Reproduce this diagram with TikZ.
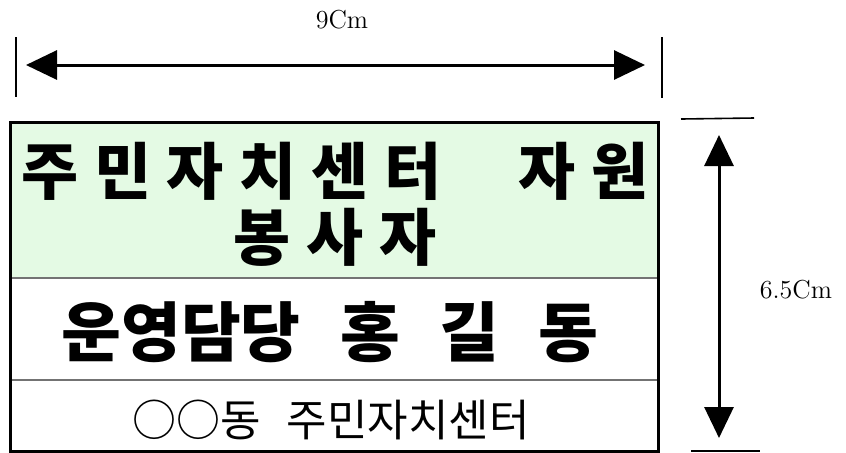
\documentclass[tikz,border=0pt]{standalone}
\usepackage{xcolor}
\usepackage{fontspec}
\usepackage{tikz}
\usetikzlibrary{arrows.meta}

\newfontfamily\kr[WordSpace=1.6]{Noto Sans CJK KR}
\newfontfamily\krname[WordSpace=2.65]{Noto Sans CJK KR}
\newfontfamily\krwide[LetterSpace=25]{Noto Sans CJK KR}
\definecolor{panelgreen}{RGB}{228,250,228}

\begin{document}
\begin{tikzpicture}[x=0.5pt,y=-0.5pt,
    dim/.style={line width=1.5pt,{Triangle[length=15.5pt,width=14.5pt]}-{Triangle[length=15.5pt,width=14.5pt]}},
    tick/.style={line width=0.8pt},
    rule/.style={draw=black!55,line width=1pt},
    dimlabel/.style={font=\fontsize{13}{15}\selectfont},
    titletext/.style={font=\krwide\bfseries\fontsize{31}{33}\selectfont,align=center},
    nametext/.style={font=\krname\bfseries\fontsize{32.5}{34}\selectfont},
    orgtext/.style={font=\kr\fontsize{22}{24}\selectfont}]
    \useasboundingbox (0,0) rectangle (846,452);

    % width
    \node[dimlabel] (wlabel) at (342,20) {9Cm};
    \draw[tick] (16,37) -- (16,97);
    \draw[tick] (662,37) -- (662,98);
    \coordinate (wl) at (26,65);
    \coordinate (wr) at (645,65);
    \draw[dim] (wl) -- (wr);

    % height
    \node[dimlabel] (hlabel) at (796,290) {6.5Cm};
    \draw[tick] (681,119) -- (754,118);
    \draw[tick] (691,451) -- (760,451);
    \coordinate (ht) at (719,135);
    \coordinate (hb) at (719,438);
    \draw[dim] (ht) -- (hb);

    % badge
    \fill[panelgreen] (10,122) rectangle (658,278);
    \draw[rule] (10,278) -- (658,278);
    \draw[rule] (10,380) -- (658,380);
    \draw[line width=1.5pt] (10,122) rectangle (658,451);

    \node[titletext] (title) at (335,204) {주민자치센터\hspace{1.25em}자원\\봉사자};
    \node[nametext] (post) at (330,332) {운영담당 홍 길 동};
    \node[orgtext] (centre) at (331,420) {○○동 주민자치센터};
\end{tikzpicture}
\end{document}
